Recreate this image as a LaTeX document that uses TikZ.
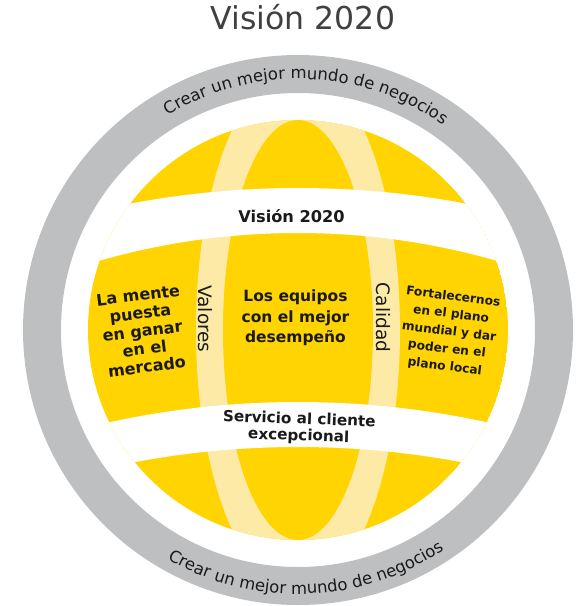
\documentclass[tikz,border=0pt]{standalone}
\usepackage{fontspec}
\setmainfont{DejaVu Sans}
\usetikzlibrary{decorations.text}
\definecolor{eyyellow}{RGB}{255,212,0}
\definecolor{eylight}{RGB}{253,234,166}
\definecolor{eygrey}{RGB}{190,191,193}
\definecolor{eytitle}{RGB}{64,64,64}
\definecolor{eytext}{RGB}{26,26,26}
\begin{document}
\begin{tikzpicture}[x=1pt,y=1pt,
    bold label/.style={font=\bfseries\fontsize{15.5}{20.5}\selectfont,
                       text=eytext, align=center, inner sep=0pt},
    strip label/.style={font=\fontsize{18.5}{18.5}\selectfont,
                        text=eytext, rotate=-90, inner sep=0pt}]
    \def\rg{210} % radius of the globe
    \def\rr{256} % middle radius of the grey ring
    \useasboundingbox (-298,-276) rectangle (287,330);

    % grey ring
    \draw [eygrey, line width=38pt] (0,0) circle (\rr);

    \begin{scope}
    \clip (0,0) circle (\rg);
    \fill [eyyellow] (0,0) circle (\rg);
    \fill [eylight] (0,0) ellipse [x radius=102, y radius=262]; % light meridian band
    \fill [eyyellow] (0,0) ellipse [x radius=75, y radius=210];
    \fill [white, even odd rule] (0,-758) circle (900) (0,-623) circle (720); % upper white band
    \fill [white, even odd rule] (0,-952) circle (880) (0,-997) circle (880); % lower white band
    \end{scope}

    % text round the ring
    \path [decorate, decoration={text along path, text align=center, text color=eytext,
           text={|\fontsize{16.5}{16.5}\selectfont|Crear un mejor mundo de negocios}}]
          (158:251) arc [start angle=158, end angle=18, radius=251];
    \path [decorate, decoration={text along path, text align=center, text color=eytext,
           text={|\fontsize{16.5}{16.5}\selectfont|Crear un mejor mundo de negocios}}]
          (202:264) arc [start angle=202, end angle=342, radius=264];

    \node [font=\fontsize{31.5}{31.5}\selectfont, text=eytitle, anchor=base, inner sep=0pt]
          (title) at (5,300) {Visión 2020};

    \node [bold label, font=\bfseries\fontsize{16.2}{16.2}\selectfont, anchor=base]
          (vision) at (-6.5,107.5) {Visión 2020};
    \node [bold label] (equipos) at (-2.5,12) {Los equipos\\con el mejor\\desempeño};
    \node [bold label, font=\bfseries\fontsize{16}{18}\selectfont, rotate=7]
          (mente) at (-155.5,-1) {La mente\\puesta\\en ganar\\en el\\mercado};
    \node [bold label, font=\bfseries\fontsize{12.2}{17.5}\selectfont, rotate=-7]
          (fortalecer) at (151,-2) {Fortalecernos\\en el plano\\mundial y dar\\poder en el\\plano local};
    \node [bold label, font=\bfseries\fontsize{15.2}{16.5}\selectfont, rotate=-2]
          (servicio) at (1,-98) {Servicio al cliente\\excepcional};

    \node [strip label] (valores) at (-92.5,11) {Valores};
    \node [strip label] (calidad) at (85.5,12.5) {Calidad};
\end{tikzpicture}
\end{document}
